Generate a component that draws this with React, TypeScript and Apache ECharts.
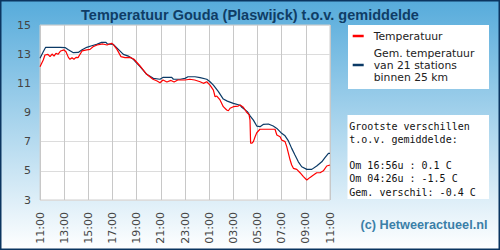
import React, { useEffect, useRef } from "react";
import * as echarts from "echarts";

// hours after 11:00 (0..24)
const tickLabels = ["11:00", "13:00", "15:00", "17:00", "19:00", "21:00", "23:00", "01:00", "03:00", "05:00", "07:00", "09:00", "11:00"];

const tempHours = [0, 0.27, 0.41, 0.66, 0.83, 1.0, 1.16, 1.32, 1.49, 1.71, 1.99, 2.15, 2.35, 2.48, 2.65, 2.81, 2.98, 3.15, 3.31, 3.48, 3.87, 4.14, 4.39, 4.72, 5.2, 5.55, 5.93, 6.1, 6.37, 6.7, 7.03, 7.45, 7.78, 8.28, 8.83, 9.35, 9.69, 9.93, 10.18, 10.5, 10.84, 11.1, 11.4, 12.0, 12.4, 12.8, 13.25, 13.52, 13.8, 14.07, 14.35, 14.49, 14.63, 14.9, 15.17, 15.45, 15.59, 15.73, 16.0, 16.4, 16.56, 16.83, 17.1, 17.3, 17.38, 17.43, 17.53, 17.66, 17.8, 17.94, 18.2, 19.45, 19.6, 19.87, 20.0, 20.28, 20.42, 20.56, 20.7, 20.83, 20.97, 21.25, 21.52, 21.8, 22.08, 22.35, 22.63, 22.9, 23.18, 23.45, 23.73, 24];
const tempValues = [12.14, 12.6, 12.94, 12.99, 12.83, 13.01, 12.87, 13.06, 12.99, 13.22, 13.29, 13.17, 12.78, 12.65, 12.76, 12.65, 12.78, 12.76, 12.99, 13.22, 13.29, 13.33, 13.51, 13.63, 13.7, 13.63, 13.75, 13.62, 13.33, 12.83, 12.76, 12.78, 12.65, 12.19, 11.62, 11.28, 11.16, 11.04, 11.23, 11.09, 11.2, 11.09, 11.23, 11.23, 11.28, 11.23, 11.11, 11.0, 11.11, 10.88, 10.54, 10.08, 10.13, 9.86, 9.4, 9.17, 9.12, 9.29, 9.4, 9.44, 9.51, 9.36, 9.02, 8.85, 8.48, 6.89, 6.89, 7.0, 7.34, 7.61, 7.85, 7.85, 7.46, 7.34, 7.11, 7.0, 6.66, 6.2, 5.74, 5.4, 5.17, 5.1, 4.87, 4.6, 4.37, 4.55, 4.71, 4.87, 4.87, 5.0, 5.33, 5.4];

const avgHours = [0, 0.27, 0.47, 1.66, 2.07, 2.35, 2.76, 3.17, 3.45, 3.87, 4.28, 4.69, 5.1, 5.46, 5.57, 6.07, 6.4, 6.9, 7.31, 7.72, 8.28, 8.83, 9.38, 9.93, 10.2, 10.9, 11.04, 11.6, 12.0, 12.25, 12.83, 13.25, 13.8, 14.07, 14.35, 14.75, 15.17, 15.5, 16.0, 16.56, 16.7, 17.16, 17.4, 17.66, 17.94, 18.21, 18.5, 18.9, 19.3, 19.6, 20.0, 20.28, 20.56, 20.83, 21.1, 21.38, 21.66, 22.08, 22.49, 22.9, 23.32, 23.6, 23.87, 24];
const avgValues = [12.72, 13.17, 13.47, 13.47, 13.45, 13.3, 13.1, 13.12, 13.28, 13.47, 13.58, 13.67, 13.81, 13.81, 13.7, 13.67, 13.4, 12.99, 12.87, 12.65, 12.14, 11.62, 11.34, 11.28, 11.41, 11.41, 11.28, 11.28, 11.34, 11.45, 11.45, 11.39, 11.28, 11.11, 10.88, 10.45, 9.92, 9.78, 9.63, 9.5, 9.36, 9.06, 8.75, 8.48, 8.07, 8.03, 8.19, 8.21, 8.07, 7.91, 7.57, 7.4, 7.05, 6.54, 6.08, 5.62, 5.28, 5.1, 5.1, 5.33, 5.62, 5.93, 6.2, 6.2];

const seriesNames = ["Temperatuur", "Gem. temperatuur\nvan 21 stations\nbinnen 25 km"];
const infoLines = ["Grootste verschillen", "t.o.v. gemiddelde:", "", "Om 16:56u : 0.1 C", "Om 04:26u : -1.5 C", "Gem. verschil: -0.4 C"];
const titleText = "Temperatuur Gouda (Plaswijck) t.o.v. gemiddelde";
const creditText = "(c) Hetweeractueel.nl";

export default function App() {
  const ref = useRef<HTMLDivElement>(null);
  useEffect(() => {
    if (!ref.current) return;
    const chart = echarts.init(ref.current, null, { renderer: "svg" });
    const zip = (xs: number[], ys: number[]) => xs.map((x, i) => [x, ys[i]]);
    chart.setOption({
      animation: false,
      backgroundColor: {
        type: "linear", x: 0, y: 0, x2: 0, y2: 1,
        colorStops: [
          { offset: 0, color: "#56abdb" },
          { offset: 1, color: "#ffffff" },
        ],
      },
      title: {
        text: titleText,
        left: "center",
        top: 2,
        textStyle: { fontFamily: "Liberation Sans", fontSize: 14.5, fontWeight: "bold", color: "#0f3d66" },
      },
      grid: {
        left: 40, top: 25, width: 290, height: 175,
        show: true, backgroundColor: "#ffffff", borderColor: "#cfcfcf", borderWidth: 1,
      },
      xAxis: {
        type: "value", min: 0, max: 24, interval: 2,
        axisLine: { show: false }, axisTick: { show: false },
        splitLine: { show: true, lineStyle: { color: "#c8c8c8", width: 1 } },
        axisLabel: {
          rotate: 90, margin: 12, fontFamily: "DejaVu Sans", fontSize: 11, color: "#444",
          formatter: (v: number) => tickLabels[Math.round(v / 2)] ?? "",
        },
      },
      yAxis: {
        type: "value", min: 3, max: 15, interval: 2,
        axisLine: { show: false }, axisTick: { show: false },
        splitLine: { show: true, lineStyle: { color: "#dcdcdc", width: 1 } },
        axisLabel: { margin: 9, fontFamily: "DejaVu Sans", fontSize: 11, color: "#444" },
      },
      legend: {
        data: seriesNames,
        orient: "vertical",
        left: 352.7, top: 30, padding: 0, itemGap: 5,
        icon: "rect", itemWidth: 11, itemHeight: 2.5,
        z: 10,
        textStyle: { fontFamily: "DejaVu Sans", fontSize: 10.8, color: "#222", lineHeight: 12, padding: [0, 0, 0, 5] },
      },
      graphic: [
        { type: "rect", z: 1, shape: { x: 348, y: 25, width: 141, height: 64 }, style: { fill: "#ffffff" } },
        { type: "rect", z: 1, shape: { x: 347.5, y: 115, width: 141.5, height: 84 }, style: { fill: "#ffffff" } },
        {
          type: "text", z: 2, x: 349.3, y: 119.5,
          style: { text: infoLines.join("\n"), fontFamily: "DejaVu Sans Mono", fontSize: 10, lineHeight: 13.2, fill: "#111" },
        },
        {
          type: "text", z: 2, x: 487.5, y: 225,
          style: { text: creditText, fontFamily: "Liberation Sans", fontSize: 12.7, fontWeight: "bold", fill: "#3b7fa8", align: "right", verticalAlign: "middle" },
        },
        {
          type: "rect", z: 20, silent: true,
          shape: { x: 0.75, y: 0.75, width: 498.5, height: 248.5 },
          style: { fill: "none", stroke: "#0b3560", lineWidth: 1.5 },
        },
      ],
      series: [
        {
          name: seriesNames[0], type: "line", data: zip(tempHours, tempValues),
          showSymbol: false, symbol: "none", color: "#ff0000",
          lineStyle: { color: "#ff0000", width: 1.2 }, z: 3,
        },
        {
          name: seriesNames[1], type: "line", data: zip(avgHours, avgValues),
          showSymbol: false, symbol: "none", color: "#0b3a66",
          lineStyle: { color: "#0b3a66", width: 1.2 }, z: 2,
        },
      ],
    });
    return () => chart.dispose();
  }, []);
  return <div ref={ref} style={{ position: "fixed", left: 0, top: 0, width: 500, height: 250 }} />;
}
